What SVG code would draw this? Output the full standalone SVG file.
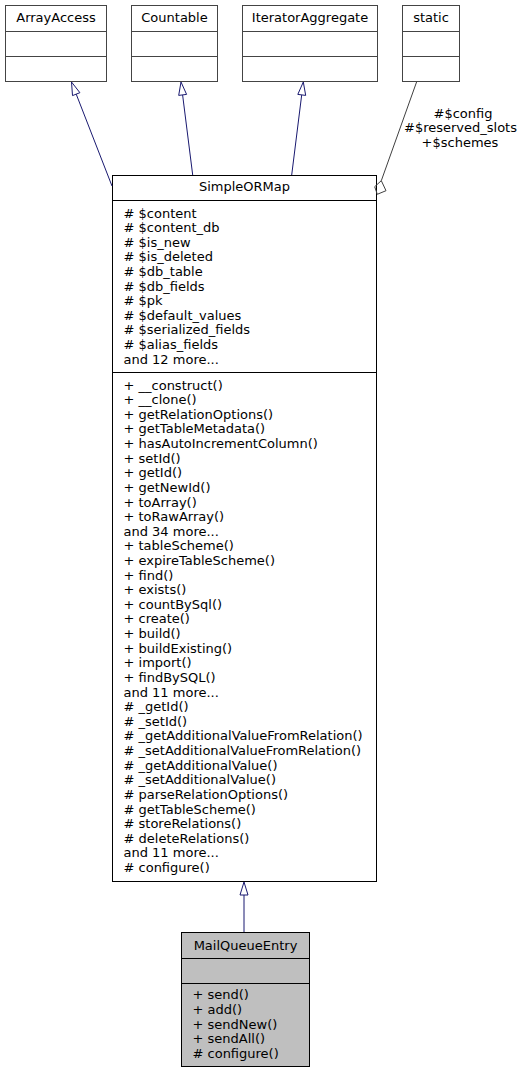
<svg xmlns="http://www.w3.org/2000/svg" width="529" height="1073" viewBox="0 0 529 1073">
<style>
text{font-family:"DejaVu Sans","Liberation Sans",sans-serif;font-size:13px;fill:#000}
.c{text-anchor:middle}
.ext{fill:#fff;stroke:#444;stroke-width:1}
.cls{fill:#fff;stroke:#000;stroke-width:1}
.cur{fill:#bfbfbf;stroke:#000;stroke-width:1}
.inh{fill:none;stroke:#191970;stroke-width:1}
.inhh{fill:#fff;stroke:#191970;stroke-width:1}
.use{fill:none;stroke:#404040;stroke-width:1}
</style>
<rect width="529" height="1073" fill="#fff"/>
<g id="ArrayAccess">
<rect class="ext" x="5.5" y="5.5" width="101" height="76"/>
<line class="ext" x1="5.5" y1="31.5" x2="106.5" y2="31.5"/>
<line class="ext" x1="5.5" y1="56.5" x2="106.5" y2="56.5"/>
<text class="c" x="56" y="22">ArrayAccess</text>
</g>
<g id="Countable">
<rect class="ext" x="131.5" y="5.5" width="86" height="76"/>
<line class="ext" x1="131.5" y1="31.5" x2="217.5" y2="31.5"/>
<line class="ext" x1="131.5" y1="56.5" x2="217.5" y2="56.5"/>
<text class="c" x="174.5" y="22">Countable</text>
</g>
<g id="IteratorAggregate">
<rect class="ext" x="242.5" y="5.5" width="135" height="76"/>
<line class="ext" x1="242.5" y1="31.5" x2="377.5" y2="31.5"/>
<line class="ext" x1="242.5" y1="56.5" x2="377.5" y2="56.5"/>
<text class="c" x="310" y="22">IteratorAggregate</text>
</g>
<g id="static">
<rect class="ext" x="402.5" y="5.5" width="57" height="76"/>
<line class="ext" x1="402.5" y1="31.5" x2="459.5" y2="31.5"/>
<line class="ext" x1="402.5" y1="56.5" x2="459.5" y2="56.5"/>
<text class="c" x="431" y="22">static</text>
</g>
<g id="SimpleORMap">
<rect class="cls" x="112.5" y="175.5" width="264" height="706"/>
<line class="cls" x1="112.5" y1="200.5" x2="376.5" y2="200.5"/>
<line class="cls" x1="112.5" y1="372.5" x2="376.5" y2="372.5"/>
<text class="c" x="244.5" y="191.4">SimpleORMap</text>
<text x="123.5" y="217.5"># $content</text>
<text x="123.5" y="232.1"># $content_db</text>
<text x="123.5" y="246.7"># $is_new</text>
<text x="123.5" y="261.3"># $is_deleted</text>
<text x="123.5" y="275.9"># $db_table</text>
<text x="123.5" y="290.5"># $db_fields</text>
<text x="123.5" y="305.1"># $pk</text>
<text x="123.5" y="319.7"># $default_values</text>
<text x="123.5" y="334.3"># $serialized_fields</text>
<text x="123.5" y="348.9"># $alias_fields</text>
<text x="123.5" y="363.5">and 12 more...</text>
<text x="123.5" y="389.5">+ __construct()</text>
<text x="123.5" y="404.1">+ __clone()</text>
<text x="123.5" y="418.7">+ getRelationOptions()</text>
<text x="123.5" y="433.4">+ getTableMetadata()</text>
<text x="123.5" y="448.0">+ hasAutoIncrementColumn()</text>
<text x="123.5" y="462.6">+ setId()</text>
<text x="123.5" y="477.2">+ getId()</text>
<text x="123.5" y="491.8">+ getNewId()</text>
<text x="123.5" y="506.5">+ toArray()</text>
<text x="123.5" y="521.1">+ toRawArray()</text>
<text x="123.5" y="535.7">and 34 more...</text>
<text x="123.5" y="550.3">+ tableScheme()</text>
<text x="123.5" y="564.9">+ expireTableScheme()</text>
<text x="123.5" y="579.6">+ find()</text>
<text x="123.5" y="594.2">+ exists()</text>
<text x="123.5" y="608.8">+ countBySql()</text>
<text x="123.5" y="623.4">+ create()</text>
<text x="123.5" y="638.0">+ build()</text>
<text x="123.5" y="652.7">+ buildExisting()</text>
<text x="123.5" y="667.3">+ import()</text>
<text x="123.5" y="681.9">+ findBySQL()</text>
<text x="123.5" y="696.5">and 11 more...</text>
<text x="123.5" y="711.1"># _getId()</text>
<text x="123.5" y="725.8"># _setId()</text>
<text x="123.5" y="740.4"># _getAdditionalValueFromRelation()</text>
<text x="123.5" y="755.0"># _setAdditionalValueFromRelation()</text>
<text x="123.5" y="769.6"># _getAdditionalValue()</text>
<text x="123.5" y="784.2"># _setAdditionalValue()</text>
<text x="123.5" y="798.9"># parseRelationOptions()</text>
<text x="123.5" y="813.5"># getTableScheme()</text>
<text x="123.5" y="828.1"># storeRelations()</text>
<text x="123.5" y="842.7"># deleteRelations()</text>
<text x="123.5" y="857.3">and 11 more...</text>
<text x="123.5" y="872.0"># configure()</text>
</g>
<g id="MailQueueEntry">
<rect class="cur" x="181.5" y="932.5" width="128" height="134"/>
<line class="cur" x1="181.5" y1="958.5" x2="309.5" y2="958.5"/>
<line class="cur" x1="181.5" y1="983.5" x2="309.5" y2="983.5"/>
<text class="c" x="245.5" y="950">MailQueueEntry</text>
<text x="192.5" y="999.3">+ send()</text>
<text x="192.5" y="1013.9">+ add()</text>
<text x="192.5" y="1028.5">+ sendNew()</text>
<text x="192.5" y="1043.1">+ sendAll()</text>
<text x="192.5" y="1057.7"># configure()</text>
</g>
<g id="connectors">
<path class="inh" d="M112,186 L76.2,94.1"/>
<polygon class="inhh" points="71.5,82 79.9,92.7 72.5,95.6"/>
<path class="inh" d="M192.7,175 L182.6,94.9"/>
<polygon class="inhh" points="181,82 186.6,94.4 178.7,95.4"/>
<path class="inh" d="M291.7,175 L301.7,94.9"/>
<polygon class="inhh" points="303.3,82 305.7,95.4 297.8,94.4"/>
<path class="inh" d="M244,932 L244,895"/>
<polygon class="inhh" points="244,882 248,895 240,895"/>
<path class="use" d="M416.7,81.7 L381.3,180.7"/>
<polygon class="use" fill="#fff" points="381.3,180.7 386,190.7 377.3,194.3 374.7,186.7"/>
<text class="c" x="463" y="118">#$config</text>
<text class="c" x="460.5" y="132.4">#$reserved_slots</text>
<text class="c" x="460" y="146.6">+$schemes</text>
</g>
</svg>
